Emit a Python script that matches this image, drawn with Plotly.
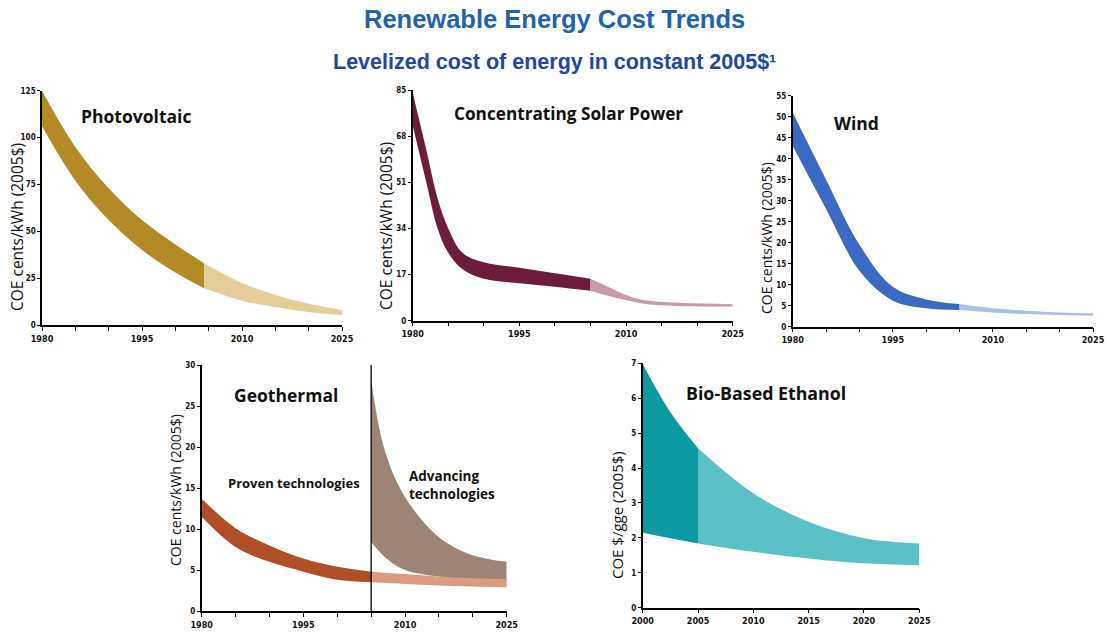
import plotly.graph_objects as go

# ---------------- data ----------------
PV_YEARS = [1980, 1985, 1990, 1995, 2000, 2004.3, 2010, 2015, 2020, 2025]
PV_UPPER = [125, 95, 73, 56, 43, 33, 22.4, 16, 11.3, 8]
PV_LOWER = [106, 77, 56, 40, 28, 19.6, 13, 9.6, 7, 5.3]
PV_SPLIT = 2004.3

CSP_YEARS = [1980, 1982, 1983.5, 1985, 1987, 1990, 1995, 2000, 2005, 2008, 2010, 2013, 2025]
CSP_UPPER = [84, 62, 45, 34, 25, 21.5, 19.5, 17.5, 15.5, 11.9, 9.5, 7.4, 6.1]
CSP_LOWER = [72, 50, 34, 25, 19, 15.5, 13.8, 12.5, 11, 8.8, 7.6, 6.1, 5.2]
CSP_SPLIT = 2005

WIND_YEARS = [1980, 1985, 1990, 1995, 2000, 2005, 2010, 2015, 2020, 2025]
WIND_UPPER = [51, 35, 19.5, 9.5, 6.5, 5.4, 4.4, 3.8, 3.4, 3.2]
WIND_LOWER = [43, 28, 13.3, 6.2, 4.4, 4.0, 3.4, 3.0, 2.8, 2.6]
WIND_SPLIT = 2005

GEO_YEARS = [1980, 1985, 1990, 1995, 2000, 2005, 2010, 2015, 2020, 2025]
GEO_UPPER = [13.7, 10.1, 8.0, 6.4, 5.4, 4.8, 4.5, 4.2, 4.0, 3.9]
GEO_LOWER = [11.5, 7.8, 6.0, 4.8, 3.8, 3.5, 3.3, 3.1, 3.0, 2.9]
GEO_SPLIT = 2005
ADV_YEARS = [2005, 2007, 2010, 2015, 2020, 2025]
ADV_UPPER = [28.2, 19.6, 13.9, 9.0, 6.8, 6.0]
ADV_LOWER = [8.4, 6.6, 5.0, 4.2, 3.8, 3.6]

ETH_YEARS = [2000, 2002.5, 2005, 2010, 2015, 2020, 2025]
ETH_UPPER = [6.98, 5.6, 4.57, 3.28, 2.46, 1.99, 1.84]
ETH_LOWER = [2.15, 1.99, 1.84, 1.60, 1.41, 1.27, 1.22]
ETH_SPLIT = 2005

X_TICKS_80 = [1980, 1985, 1990, 1995, 2000, 2005, 2010, 2015, 2020, 2025]
X_TEXT_80 = ["1980", "", "", "1995", "", "", "2010", "", "", "2025"]
X_TICKS_ETH = [2000, 2005, 2010, 2015, 2020, 2025]
PV_YTICKS = [0, 25, 50, 75, 100, 125]
CSP_YTICKS = [0, 17, 34, 51, 68, 85]
WIND_YTICKS = [0, 5, 10, 15, 20, 25, 30, 35, 40, 45, 50, 55]
GEO_YTICKS = [0, 5, 10, 15, 20, 25, 30]
ETH_YTICKS = [0, 1, 2, 3, 4, 5, 6, 7]

TITLE = "Renewable Energy Cost Trends"
SUBTITLE = "Levelized cost of energy in constant 2005$¹"

# ---------------- figure ----------------
W, H = 1109, 633
fig = go.Figure()

def xd(a, b):
    return [a / W, b / W]

def yd(top, bottom):
    return [1 - bottom / H, 1 - top / H]

panels = {
    1: dict(x=xd(42, 342), y=yd(90.7, 325), xr=[1980, 2025], yr=[0, 125], yt=PV_YTICKS, xt=X_TICKS_80, xtt=X_TEXT_80),
    2: dict(x=xd(412.7, 732.7), y=yd(90, 320.7), xr=[1980, 2025], yr=[0, 85], yt=CSP_YTICKS, xt=X_TICKS_80, xtt=X_TEXT_80),
    3: dict(x=xd(792.7, 1093), y=yd(95.7, 326.7), xr=[1980, 2025], yr=[0, 55], yt=WIND_YTICKS, xt=X_TICKS_80, xtt=X_TEXT_80),
    4: dict(x=xd(201.7, 506.7), y=yd(365, 611), xr=[1980, 2025], yr=[0, 30], yt=GEO_YTICKS, xt=X_TICKS_80, xtt=X_TEXT_80),
    5: dict(x=xd(642.7, 919.3), y=yd(363.3, 607.7), xr=[2000, 2025], yr=[0, 7], yt=ETH_YTICKS, xt=X_TICKS_ETH, xtt=[str(v) for v in X_TICKS_ETH]),
}

tickfont = dict(family="DejaVu Sans Condensed, Liberation Sans Narrow, Arial", size=9, color="#111", weight="bold")
for i, p in panels.items():
    sx = "" if i == 1 else str(i)
    fig.layout["xaxis" + sx] = dict(
        domain=p["x"], range=p["xr"], anchor="y" + sx, showgrid=False, zeroline=False,
        showline=True, linecolor="black", linewidth=1.5, ticks="outside", ticklen=4,
        tickcolor="black", tickvals=p["xt"], ticktext=p["xtt"], tickfont=tickfont,
        fixedrange=True, automargin=False)
    fig.layout["yaxis" + sx] = dict(
        domain=p["y"], range=p["yr"], anchor="x" + sx, showgrid=False, zeroline=False,
        showline=True, linecolor="black", linewidth=1.5, ticks="outside", ticklen=3,
        tickcolor="black", tickvals=p["yt"], tickfont=dict(tickfont, size=8),
        fixedrange=True, automargin=False)


def band(idx, years, upper, lower, x0, x1, color):
    sx = "" if idx == 1 else str(idx)
    xs, us, ls = [], [], []
    for y, u, l in zip(years, upper, lower):
        if x0 <= y <= x1:
            xs.append(y); us.append(u); ls.append(l)
    fig.add_trace(go.Scatter(x=xs, y=ls, mode="lines", line=dict(width=0, shape="spline", smoothing=1.0),
                             xaxis="x" + sx, yaxis="y" + sx, showlegend=False, hoverinfo="skip"))
    fig.add_trace(go.Scatter(x=xs, y=us, mode="lines", line=dict(width=0, shape="spline", smoothing=1.0),
                             fill="tonexty", fillcolor=color,
                             xaxis="x" + sx, yaxis="y" + sx, showlegend=False, hoverinfo="skip"))


band(1, PV_YEARS, PV_UPPER, PV_LOWER, 1980, PV_SPLIT, "#b38a26")
band(1, PV_YEARS, PV_UPPER, PV_LOWER, PV_SPLIT, 2025, "#e3cd98")
band(2, CSP_YEARS, CSP_UPPER, CSP_LOWER, 1980, CSP_SPLIT, "#6d1c3b")
band(2, CSP_YEARS, CSP_UPPER, CSP_LOWER, CSP_SPLIT, 2025, "#c99aab")
band(3, WIND_YEARS, WIND_UPPER, WIND_LOWER, 1980, WIND_SPLIT, "#3a6ac4")
band(3, WIND_YEARS, WIND_UPPER, WIND_LOWER, WIND_SPLIT, 2025, "#a8c0ec")
band(4, GEO_YEARS, GEO_UPPER, GEO_LOWER, 1980, GEO_SPLIT, "#b04f25")
band(4, ADV_YEARS, ADV_UPPER, ADV_LOWER, 2005, 2025, "#9c8577")
band(4, GEO_YEARS, GEO_UPPER, GEO_LOWER, GEO_SPLIT, 2025, "#dc9a80")
band(5, ETH_YEARS, ETH_UPPER, ETH_LOWER, 2000, ETH_SPLIT, "#0e9aa3")
band(5, ETH_YEARS, ETH_UPPER, ETH_LOWER, ETH_SPLIT, 2025, "#5cc0c8")

# geothermal divider line
fig.add_trace(go.Scatter(x=[GEO_SPLIT, GEO_SPLIT], y=[0, GEO_YTICKS[-1]], mode="lines",
                         line=dict(color="black", width=1.3), xaxis="x4", yaxis="y4",
                         showlegend=False, hoverinfo="skip"))

ann = []
lab_font = dict(family="Open Sans, Lato, Arial", size=15, color="#111")

def txt(text, x, y, size=15, xanchor="left", angle=0, align="left"):
    ann.append(dict(text=text, x=x / W, y=1 - y / H, xref="paper", yref="paper",
                    showarrow=False, xanchor=xanchor, yanchor="middle", textangle=angle,
                    align=align, font=dict(lab_font, size=size)))

txt("<b>Photovoltaic</b>", 79, 116, size=17.5)
txt("<b>Concentrating Solar Power</b>", 452, 113, size=17.2)
txt("<b>Wind</b>", 832, 123, size=17.5)
txt("<b>Geothermal</b>", 232, 395, size=17.5)
txt("<b>Proven technologies</b>", 226, 483, size=13)
txt("<b>Advancing<br>technologies</b>", 407, 485, size=13.5)
txt("<b>Bio-Based Ethanol</b>", 684, 393, size=17.8)

txt("COE cents/kWh (2005$)", 17, 227, size=15.5, xanchor="center", angle=-90)
txt("COE cents/kWh (2005$)", 386, 226, size=15.5, xanchor="center", angle=-90)
txt("COE cents/kWh (2005$)", 766, 238, size=14, xanchor="center", angle=-90)
txt("COE cents/kWh (2005$)", 175, 490, size=14, xanchor="center", angle=-90)
txt("COE $/gge (2005$)", 617, 515, size=15, xanchor="center", angle=-90)

ann.append(dict(text="<b>" + TITLE + "</b>", x=0.5, y=1 - 19 / H, xref="paper", yref="paper",
                showarrow=False, xanchor="center", yanchor="middle",
                font=dict(family="Liberation Sans, Arial", size=25.5, color="#1e63b0")))
ann.append(dict(text="<b>" + SUBTITLE + "</b>", x=0.5, y=1 - 62 / H, xref="paper", yref="paper",
                showarrow=False, xanchor="center", yanchor="middle",
                font=dict(family="Liberation Sans, Arial", size=21.5, color="#2046a6")))

fig.update_layout(width=W, height=H, margin=dict(l=0, r=0, t=0, b=0),
                  paper_bgcolor="white", plot_bgcolor="white", annotations=ann,
                  showlegend=False)

fig.write_html("out.html", config={"displayModeBar": False},
               post_script="document.body.style.margin='0';document.body.style.overflow='hidden';")
